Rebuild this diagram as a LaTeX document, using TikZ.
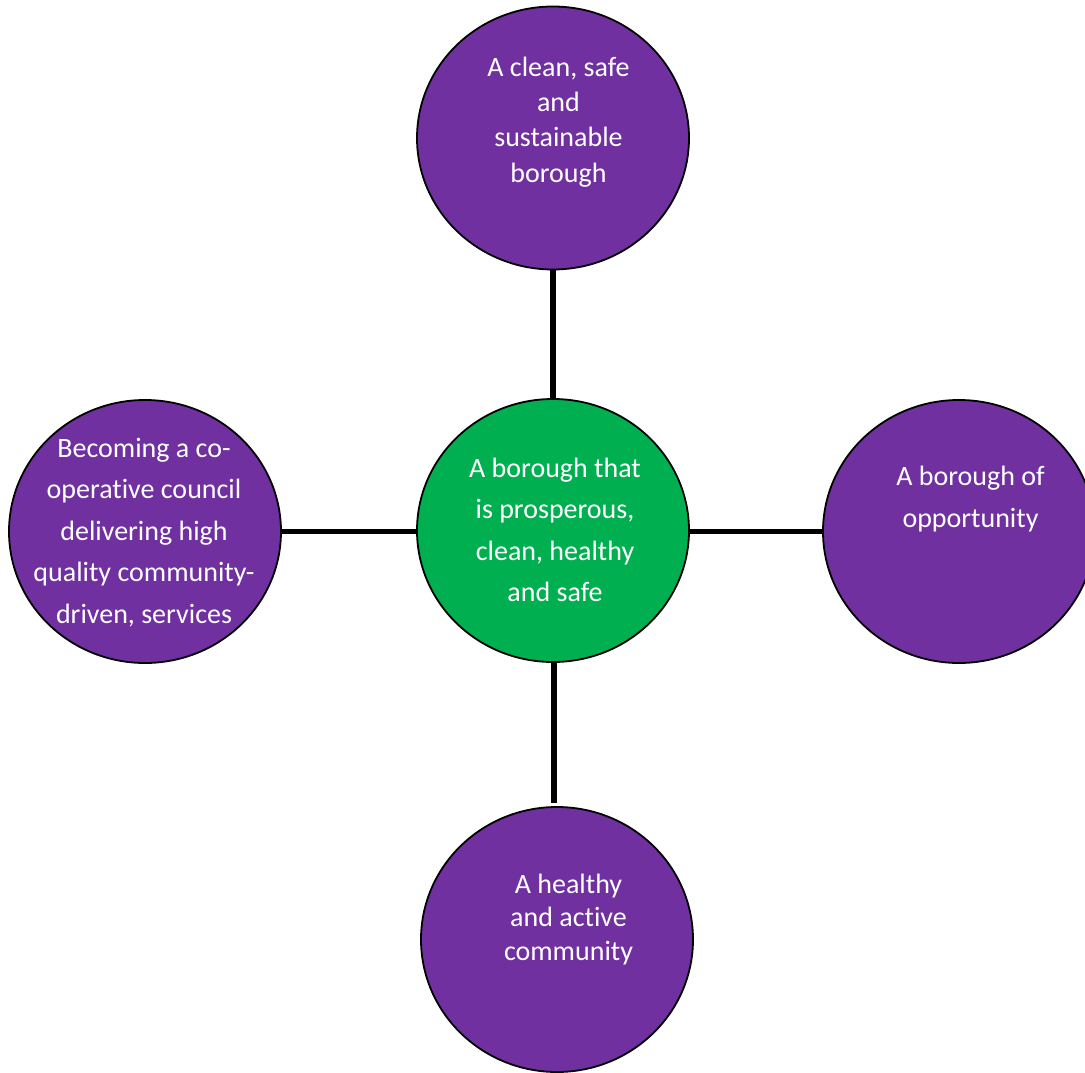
\documentclass[tikz,border=0pt]{standalone}
\usepackage{fontspec}
\setmainfont{Carlito}[Ligatures=CommonOff]
\usetikzlibrary{shapes.geometric}
\definecolor{goalpurple}{HTML}{7030A0}
\definecolor{goalgreen}{HTML}{00B050}
\begin{document}
\begin{tikzpicture}[x=1pt,y=-1pt,
  goal/.style={ellipse,draw=black,line width=1.8pt,minimum width=272pt,
    minimum height=263pt,inner sep=0pt,outer sep=0pt,fill=goalpurple},
  hub/.style={goal,fill=goalgreen},
  % anchored at the baseline of the last line
  goaltext/.style={text=white,align=center,anchor=base,inner sep=0pt,
    font=\fontsize{28}{#1}\selectfont},
  link/.style={line width=5.5pt,draw=black}]
\useasboundingbox (0,0) rectangle (1085,1073);
\fill[white] (0,0) rectangle (1085,1073);
\clip (0,0) rectangle (1085,1073);

% outer goals and the central aim
\node[goal] (clean) at (553,138) {};
\node[hub]  (centre) at (553,530.5) {};
\node[goal] (coop) at (145,531.5) {};
\node[goal] (opp) at (959,531.5) {};
\node[goal,minimum height=265pt] (health) at (557,939.5) {};

% spokes
\coordinate (hend) at (554,803);
\draw[link] (clean.south) -- (centre.north);
\draw[link] (coop.east |- 0,531.5) -- (centre.west |- 0,531.5);
\draw[link] (centre.east |- 0,531.5) -- (opp.west |- 0,531.5);
\draw[link] (centre.south -| hend) -- (hend);

% labels
\node[goaltext=35.3pt] (cleant) at (558.5,182)
  {A clean, safe\\and\\sustainable\\borough};
\node[goaltext=41.5pt] (centret) at (555,601.5)
  {A borough that\\is prosperous,\\clean, healthy\\and safe};
\node[goaltext=41.5pt] (coopt) at (144,623)
  {Becoming a co-\\operative council\\delivering high\\quality community-\\driven, services};
\node[goaltext=42pt] (oppt) at (970.5,527)
  {A borough of\\opportunity};
\node[goaltext=33.5pt] (healtht) at (568.5,960)
  {A healthy\\and active\\community};
\end{tikzpicture}
\end{document}
